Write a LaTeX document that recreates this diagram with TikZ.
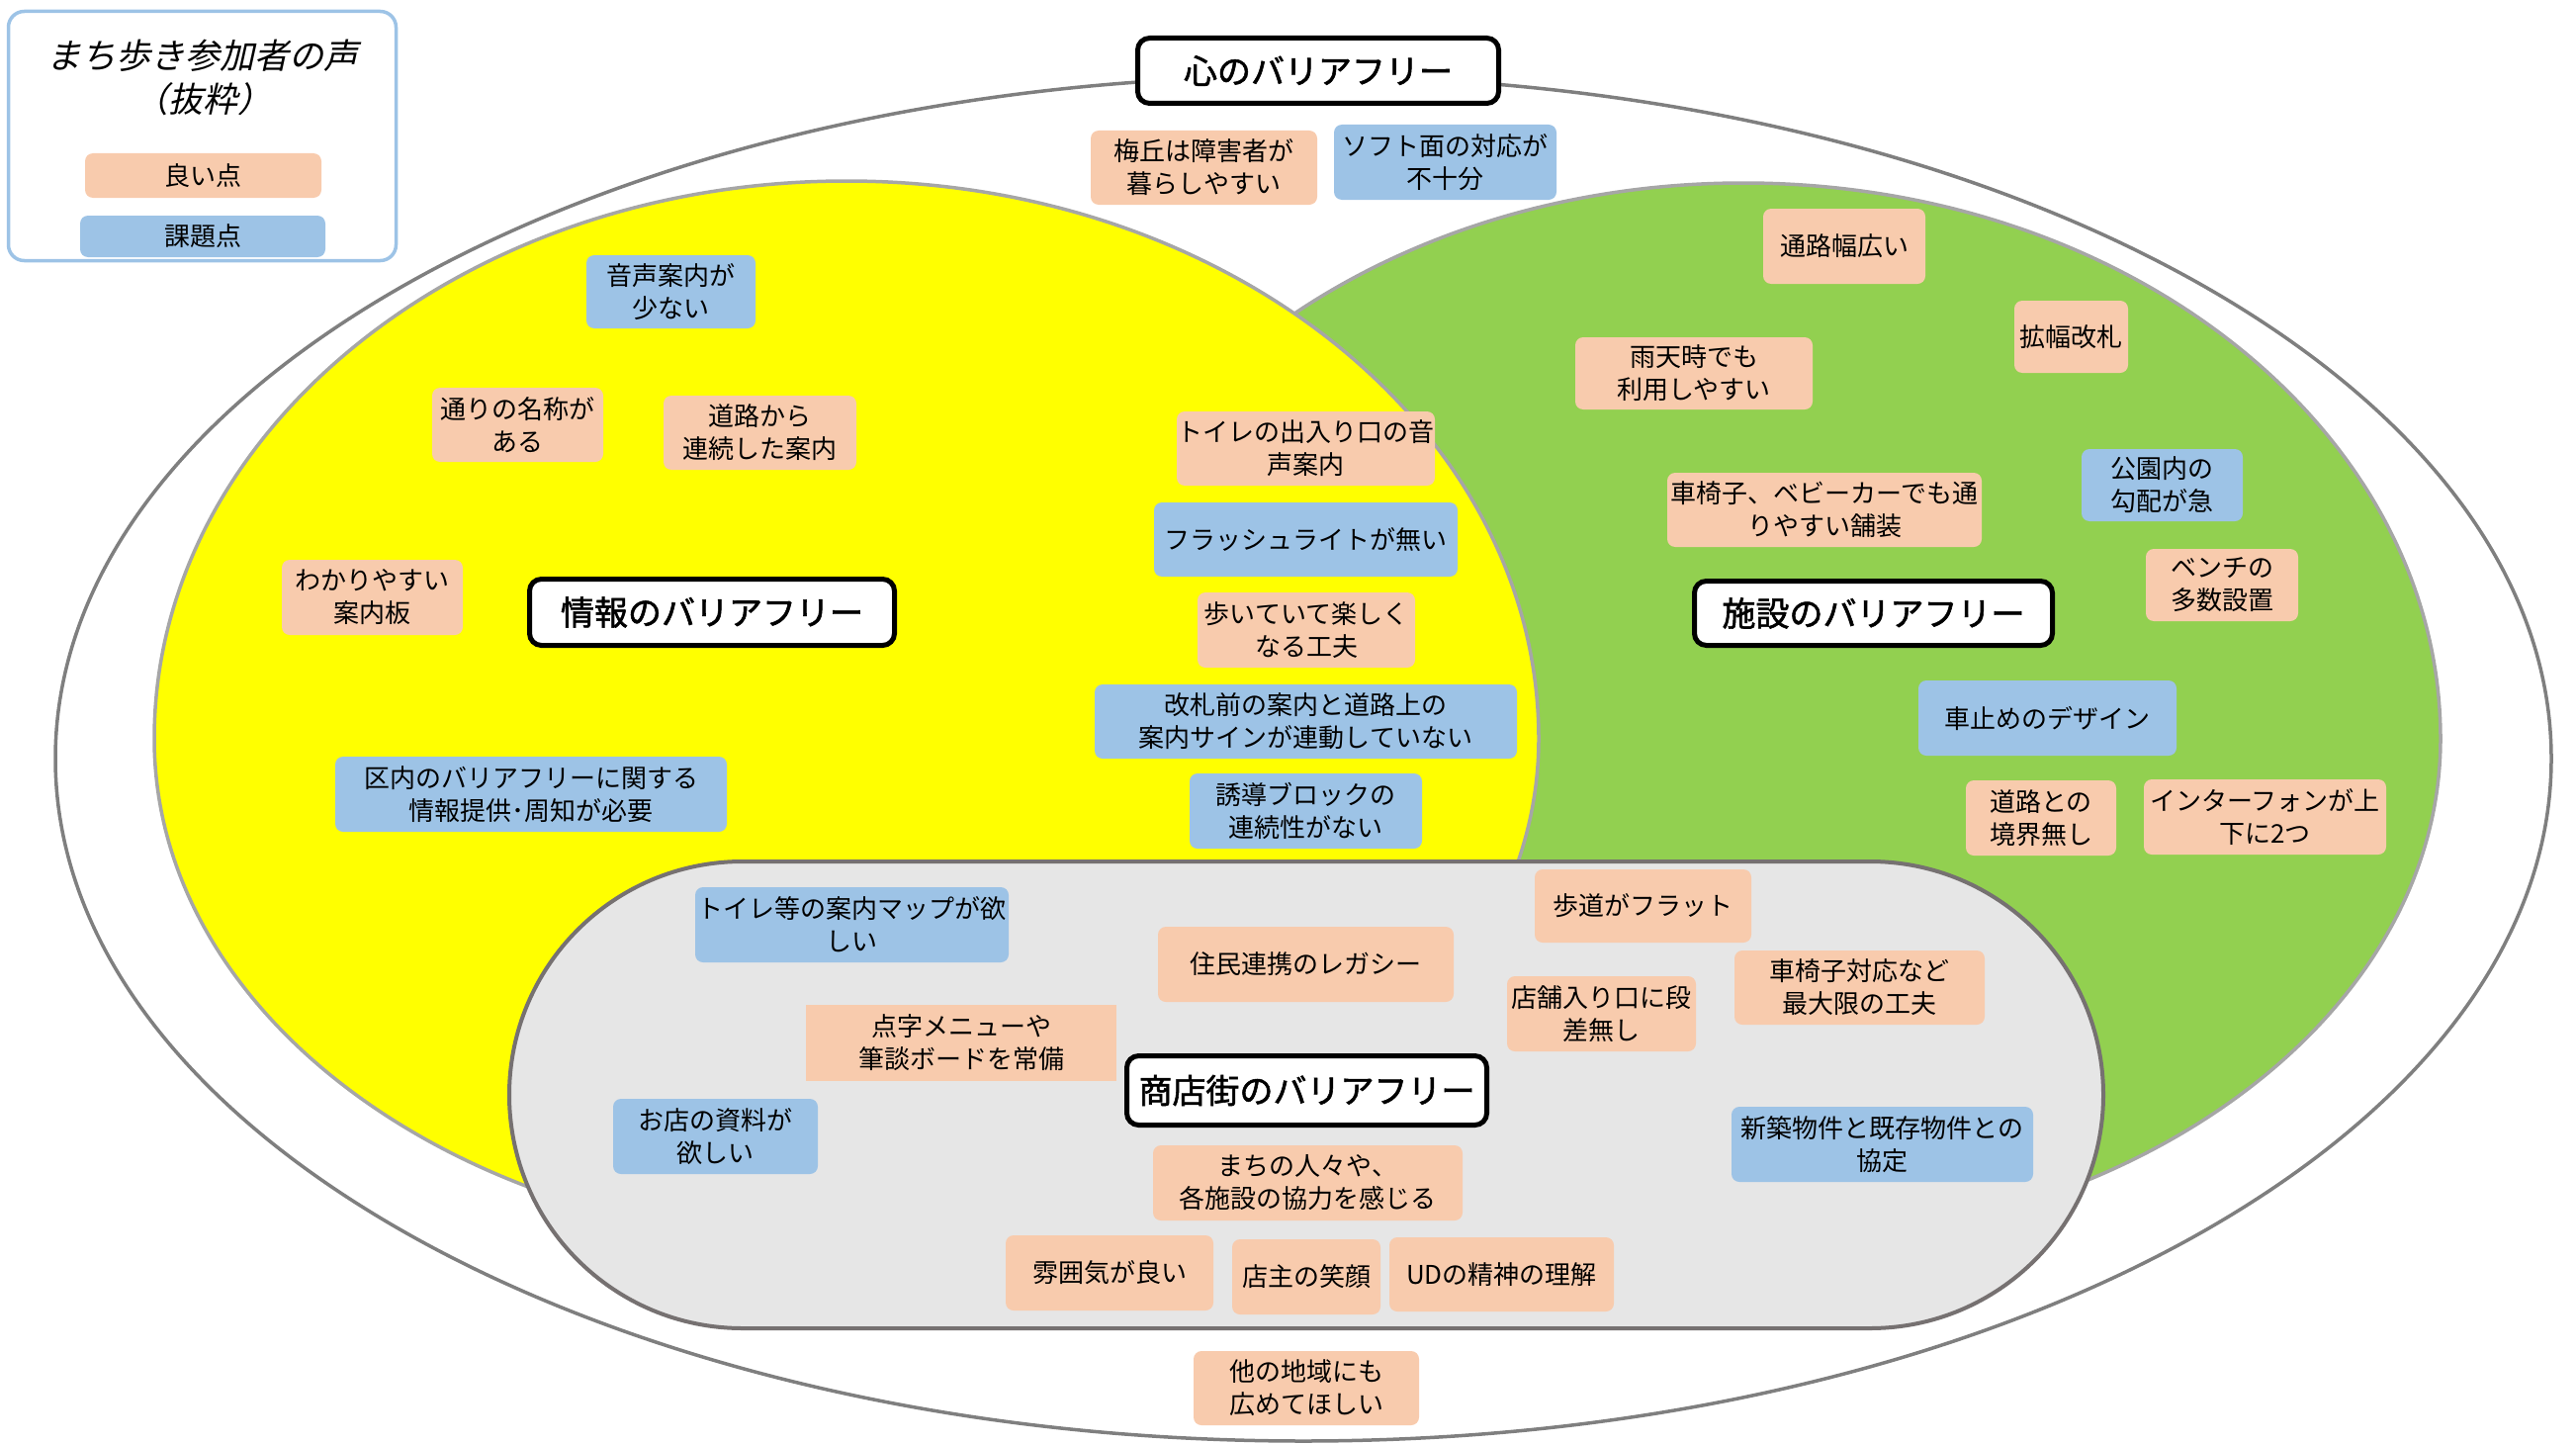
\documentclass[tikz,border=0pt]{standalone}
\usepackage{fontspec}
\setmainfont{Noto Sans CJK JP}
\newfontfamily\jpit[FakeSlant=0.22]{Noto Sans CJK JP}
\newfontfamily\jpttl[FakeBold=1.6]{Noto Sans CJK JP}
\definecolor{peach}{HTML}{F8CBAD}
\definecolor{skyb}{HTML}{9DC3E6}
\definecolor{vyel}{HTML}{FFFF00}
\definecolor{vgrn}{HTML}{92D050}
\definecolor{edgeg}{HTML}{A6A6A6}
\definecolor{outerg}{HTML}{7F7F7F}
\definecolor{stadf}{HTML}{E6E6E6}
\definecolor{stade}{HTML}{767171}
\tikzset{
  lbl/.style={rounded corners=8pt, inner sep=0pt, align=center,
    font=\fontsize{26}{33}\selectfont},
  good/.style={lbl, fill=peach},
  bad/.style={lbl, fill=skyb},
  ttl/.style={draw=black, line width=5pt, fill=white, rounded corners=12pt,
    inner sep=0pt, font=\jpttl\fontsize{34}{40}\selectfont},
}
\begin{document}
\begin{tikzpicture}[x=1pt,y=-1pt]
\useasboundingbox (0,0) rectangle (2605,1461);
% outer ellipse
\draw[outerg, line width=3.5pt] (1318,767) ellipse [x radius=1262pt, y radius=690pt];
% green region
\draw[edgeg, line width=3.5pt, fill=vgrn] (2468,747)
  arc[start angle=0, end angle=180, x radius=705pt, y radius=562pt]
  arc[start angle=180, end angle=360, x radius=705pt, y radius=513pt] -- cycle;
% yellow region
\draw[edgeg, line width=3.5pt, fill=vyel] (1556,747)
  arc[start angle=0, end angle=180, x radius=700pt, y radius=564pt]
  arc[start angle=180, end angle=360, x radius=700pt, y radius=510pt] -- cycle;
% stadium
\draw[stade, line width=4pt, fill=stadf, rounded corners=236pt] (515,871) rectangle (2127,1343);

% legend
\node[draw=skyb, line width=3.5pt, rounded corners=16pt, minimum width=392pt, minimum height=252pt, inner sep=0pt] (legend) at (204.5,137.5) {};
\node[align=center, font=\jpit\fontsize{35}{44}\selectfont, inner sep=0pt] (legtitle) at (205,78) {まち歩き参加者の声\\（抜粋）};
\node[good, minimum width=239pt, minimum height=45pt] (leggood) at (205.5,177.5) {良い点};
\node[bad, minimum width=248pt, minimum height=42pt] (legbad) at (205,239) {課題点};

% titles
\node[ttl, minimum width=365pt, minimum height=66pt] (t1) at (1333,71.5) {心のバリアフリー};
\node[ttl, minimum width=369pt, minimum height=67pt] (t2) at (720,619) {情報のバリアフリー};
\node[ttl, minimum width=362pt, minimum height=65pt] (t3) at (1894.5,620) {施設のバリアフリー};
\node[ttl, minimum width=364pt, minimum height=70pt] (t4) at (1321.5,1102.5) {商店街のバリアフリー};

% heart
\node[good, minimum width=229pt, minimum height=75pt] (n1) at (1217.5,169.5) {梅丘は障害者が\\暮らしやすい};
\node[bad, minimum width=225pt, minimum height=76pt] (n2) at (1461.5,164) {ソフト面の対応が\\不十分};
% information
\node[bad, minimum width=171pt, minimum height=74pt] (n3) at (678.5,295) {音声案内が\\少ない};
\node[good, minimum width=173pt, minimum height=75pt] (n4) at (523.5,429.5) {通りの名称が\\ある};
\node[good, minimum width=195pt, minimum height=75pt] (n5) at (768.5,437.5) {道路から\\連続した案内};
\node[good, minimum width=183pt, minimum height=76pt] (n6) at (376.5,604) {わかりやすい\\案内板};
\node[good, minimum width=261pt, minimum height=75pt] (n7) at (1320.5,453.5) {トイレの出入り口の音\\声案内};
\node[bad, minimum width=307pt, minimum height=75pt] (n8) at (1320.5,545.5) {フラッシュライトが無い};
\node[good, minimum width=220pt, minimum height=76pt] (n9) at (1321,637) {歩いていて楽しく\\なる工夫};
\node[bad, minimum width=427pt, minimum height=75pt] (n10) at (1320.5,729.5) {改札前の案内と道路上の\\案内サインが連動していない};
\node[bad, minimum width=235pt, minimum height=76pt] (n11) at (1320.5,820) {誘導ブロックの\\連続性がない};
\node[bad, minimum width=396pt, minimum height=76pt] (n12) at (537,803) {区内のバリアフリーに関する\\情報提供･周知が必要};
% facilities
\node[good, minimum width=164pt, minimum height=76pt] (n13) at (1865,249) {通路幅広い};
\node[good, minimum width=115pt, minimum height=73pt] (n14) at (2094.5,340.5) {拡幅改札};
\node[good, minimum width=240pt, minimum height=73pt] (n15) at (1713,377.5) {雨天時でも\\利用しやすい};
\node[bad, minimum width=163pt, minimum height=73pt] (n16) at (2186.5,490.5) {公園内の\\勾配が急};
\node[good, minimum width=318pt, minimum height=75pt] (n17) at (1845,515.5) {車椅子、ベビーカーでも通\\りやすい舗装};
\node[good, minimum width=154pt, minimum height=73pt] (n18) at (2247,591.5) {ベンチの\\多数設置};
\node[bad, minimum width=261pt, minimum height=76pt] (n19) at (2070.5,726) {車止めのデザイン};
\node[good, minimum width=152pt, minimum height=76pt] (n20) at (2064,827) {道路との\\境界無し};
\node[good, minimum width=245pt, minimum height=76pt] (n21) at (2290.5,826) {インターフォンが上\\下に2つ};
% shopping street
\node[good, minimum width=219pt, minimum height=74pt] (n22) at (1661.5,916) {歩道がフラット};
\node[good, minimum width=253pt, minimum height=75pt] (n23) at (1880.5,998.5) {車椅子対応など\\最大限の工夫};
\node[good, minimum width=191pt, minimum height=76pt] (n24) at (1619.5,1025) {店舗入り口に段\\差無し};
\node[good, minimum width=299pt, minimum height=76pt] (n25) at (1320.5,975) {住民連携のレガシー};
\node[bad, minimum width=317pt, minimum height=76pt] (n26) at (861.5,935) {トイレ等の案内マップが欲\\しい};
\node[good, sharp corners, minimum width=314pt, minimum height=77pt] (n27) at (972,1054.5) {点字メニューや\\筆談ボードを常備};
\node[bad, minimum width=207pt, minimum height=76pt] (n28) at (723.5,1149) {お店の資料が\\欲しい};
\node[good, minimum width=313pt, minimum height=76pt] (n30) at (1322.5,1196) {まちの人々や、\\各施設の協力を感じる};
\node[good, minimum width=210pt, minimum height=76pt] (n31) at (1122,1287) {雰囲気が良い};
\node[good, minimum width=150pt, minimum height=76pt] (n32) at (1321,1291) {店主の笑顔};
\node[good, minimum width=227pt, minimum height=75pt] (n33) at (1518.5,1288.5) {UDの精神の理解};
\node[bad, minimum width=305pt, minimum height=76pt] (n34) at (1903.5,1157) {新築物件と既存物件との\\協定};
% outside
\node[good, minimum width=228pt, minimum height=75pt] (n35) at (1321,1403.5) {他の地域にも\\広めてほしい};
\end{tikzpicture}
\end{document}
